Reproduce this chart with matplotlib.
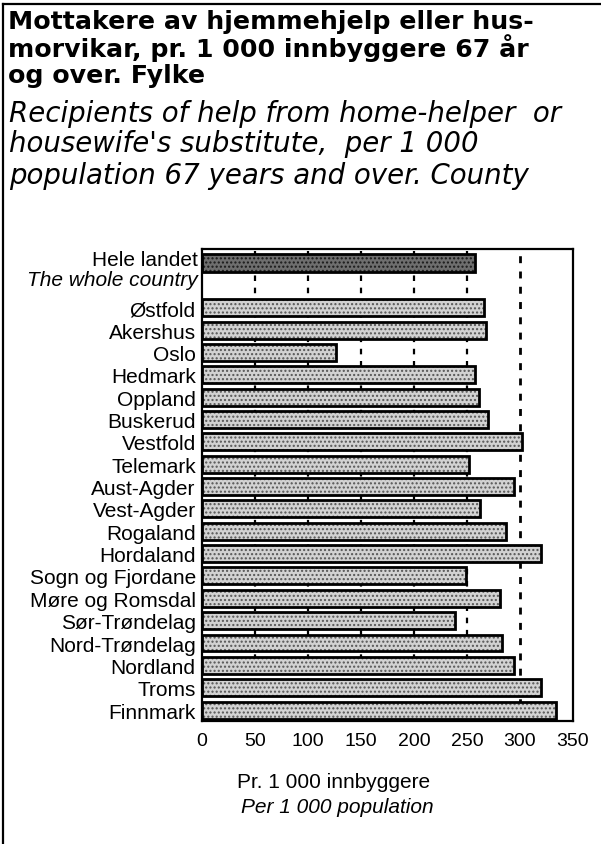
import matplotlib
matplotlib.use("Agg")
import matplotlib.pyplot as plt
from matplotlib.lines import Line2D

# ---- data ----
total_label = "Hele landet"
total_label_en = "The whole country"
total_value = 258

counties = ["Østfold", "Akershus", "Oslo", "Hedmark", "Oppland", "Buskerud",
            "Vestfold", "Telemark", "Aust-Agder", "Vest-Agder", "Rogaland",
            "Hordaland", "Sogn og Fjordane", "Møre og Romsdal", "Sør-Trøndelag",
            "Nord-Trøndelag", "Nordland", "Troms", "Finnmark"]
values = [266, 268, 126, 258, 261, 270, 302, 252, 294, 262, 287,
          320, 249, 281, 239, 283, 294, 320, 334]

xticks = [0, 50, 100, 150, 200, 250, 300, 350]
gridlines = [50, 100, 150, 200, 250, 300]

title_no = ["Mottakere av hjemmehjelp eller hus-",
            "morvikar, pr. 1 000 innbyggere 67 år",
            "og over. Fylke"]
title_en = ["Recipients of help from home-helper  or",
            "housewife's substitute,  per 1 000",
            "population 67 years and over. County"]
xlabel_no = "Pr. 1 000 innbyggere"
xlabel_en = "Per 1 000 population"

# ---- figure ----
W, H = 601, 845
fig = plt.figure(figsize=(W / 100, H / 100), dpi=100)
plt.rcParams['hatch.linewidth'] = 1.0

def fx(px):
    return px / W

def fy(py):
    return 1 - py / H

ax = fig.add_axes([fx(202), fy(722), fx(573) - fx(202), fy(250) - fy(722)])

ypos = list(range(len(counties)))
total_pos = -2

# grid lines (behind bars)
for g in gridlines:
    ax.axvline(g, color="black", lw=2.0 if g == 300 else 1.6,
               ls=(0, (2.5, 3.0)), zorder=1)

# county bars
ax.barh(ypos, values, height=0.76, color="#d2d2d2", hatch="....",
        edgecolor="#555555", lw=0, zorder=2)
ax.barh(ypos, values, height=0.76, fill=False, edgecolor="black", lw=2.0, zorder=3)
# total bar
ax.barh([total_pos], [total_value], height=0.8, color="#6e6e6e", hatch="....",
        edgecolor="#1a1a1a", lw=0, zorder=2)
ax.barh([total_pos], [total_value], height=0.8, fill=False, edgecolor="black", lw=2.0, zorder=3)

ax.set_xlim(0, 350)
ax.set_ylim(18.49, -2.63)

ax.set_xticks(xticks)
ax.set_xticklabels([str(t) for t in xticks], fontfamily="Liberation Sans", fontsize=14)
ax.set_yticks(ypos)
ax.set_yticklabels(counties, fontfamily="Liberation Sans", fontsize=15)
ax.tick_params(axis="both", length=0)
ax.tick_params(axis="x", pad=8)
ax.tick_params(axis="y", pad=4.5)

ax.text(-4.5 / 1.06, total_pos + 0.1, total_label, ha="right", va="baseline",
        fontfamily="Liberation Sans", fontsize=15, transform=ax.transData, clip_on=False)
ax.text(-4.5 / 1.06, total_pos + 0.97, total_label_en, ha="right", va="baseline",
        fontfamily="Liberation Sans", fontstyle="italic", fontsize=15,
        transform=ax.transData, clip_on=False)

for s in ax.spines.values():
    s.set_linewidth(1.6)
    s.set_zorder(4)

# titles
for i, line in enumerate(title_no):
    fig.text(fx(8), fy(29.5 + 27 * i), line, ha="left", va="baseline",
             fontfamily="DejaVu Sans", fontweight="bold", fontsize=18.2)
for i, line in enumerate(title_en):
    fig.text(fx(9), fy(121.5 + 31 * i), line, ha="left", va="baseline",
             fontfamily="DejaVu Sans", fontstyle="oblique", fontsize=19.9)

# x-axis label
fig.text(fx(333.5), fy(788), xlabel_no, ha="center", va="baseline",
         fontfamily="Liberation Sans", fontsize=15)
fig.text(fx(337), fy(813), xlabel_en, ha="center", va="baseline",
         fontfamily="Liberation Sans", fontstyle="italic", fontsize=15)

# outer frame (left and top edges)
fig.add_artist(Line2D([fx(3), fx(3)], [fy(5), fy(845)], color="black", lw=1.6,
                      transform=fig.transFigure))
fig.add_artist(Line2D([fx(3), fx(601)], [fy(5), fy(5)], color="black", lw=1.6,
                      transform=fig.transFigure))

fig.savefig("out.png", dpi=100)
